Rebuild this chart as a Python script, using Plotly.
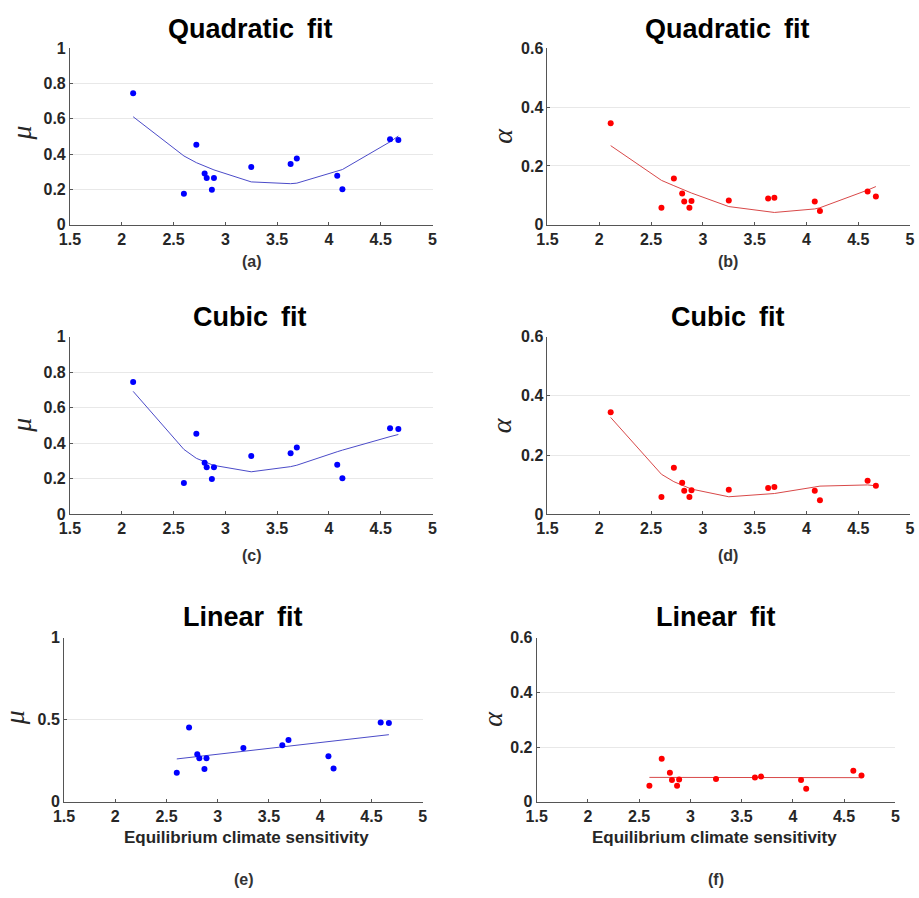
import plotly.graph_objects as go

W, H = 919, 898

# ---- data ----
ecs = [2.11, 2.60, 2.72, 2.80, 2.82, 2.87, 2.89, 3.25, 3.63, 3.69, 4.08, 4.13, 4.59, 4.67]
mu = [0.745, 0.176, 0.453, 0.290, 0.265, 0.199, 0.265, 0.328, 0.344, 0.376, 0.278, 0.202, 0.484, 0.480]
alpha = [0.345, 0.058, 0.157, 0.106, 0.079, 0.058, 0.081, 0.083, 0.089, 0.092, 0.079, 0.047, 0.113, 0.096]

quad_mu = [0.612, 0.390, 0.352, 0.331, 0.326, 0.315, 0.311, 0.243, 0.233, 0.236, 0.302, 0.313, 0.470, 0.503]
cubic_mu = [0.692, 0.365, 0.315, 0.294, 0.289, 0.279, 0.275, 0.239, 0.268, 0.276, 0.352, 0.361, 0.437, 0.449]
quad_alpha = [0.269, 0.151, 0.133, 0.121, 0.118, 0.111, 0.108, 0.062, 0.043, 0.042, 0.054, 0.058, 0.118, 0.130]
cubic_alpha = [0.327, 0.135, 0.110, 0.098, 0.095, 0.088, 0.085, 0.059, 0.068, 0.070, 0.092, 0.095, 0.099, 0.096]

lin_x = [2.60, 4.67]
lin_mu = [0.261, 0.409]
lin_alpha = [0.089, 0.088]

x_ticks = [1.5, 2, 2.5, 3, 3.5, 4, 4.5, 5]
mu_ticks = [0, 0.2, 0.4, 0.6, 0.8, 1]
mu_ticks_lin = [0, 0.5, 1]
alpha_ticks = [0, 0.2, 0.4, 0.6]

BLUE = "#0000ff"
BLUE_LINE = "#4b4bc8"
RED = "#ff0000"
RED_LINE = "#d84848"
TXT = "#262626"

# panel pixel boxes: (left, right, top, bottom)
boxes = [
    (60, 429, 41, 221),
    (546, 915, 41, 221),
    (60, 429, 335, 516),
    (546, 915, 335, 516),
    (54, 419, 642, 809),
    (535, 900, 642, 809),
]

panels = [
    dict(title="Quadratic\u2009 fit", x=ecs, y=mu, fx=ecs, fy=quad_mu, c=BLUE, lc=BLUE_LINE,
         yr=[0, 1], yt=mu_ticks, lab="μ", tag="(a)"),
    dict(title="Quadratic\u2009 fit", x=ecs, y=alpha, fx=ecs, fy=quad_alpha, c=RED, lc=RED_LINE,
         yr=[0, 0.6], yt=alpha_ticks, lab="α", tag="(b)"),
    dict(title="Cubic\u2009 fit", x=ecs, y=mu, fx=ecs, fy=cubic_mu, c=BLUE, lc=BLUE_LINE,
         yr=[0, 1], yt=mu_ticks, lab="μ", tag="(c)"),
    dict(title="Cubic\u2009 fit", x=ecs, y=alpha, fx=ecs, fy=cubic_alpha, c=RED, lc=RED_LINE,
         yr=[0, 0.6], yt=alpha_ticks, lab="α", tag="(d)"),
    dict(title="Linear\u2009 fit", x=ecs[1:], y=mu[1:], fx=lin_x, fy=lin_mu, c=BLUE, lc=BLUE_LINE,
         yr=[0, 1], yt=mu_ticks_lin, lab="μ", tag="(e)"),
    dict(title="Linear\u2009 fit", x=ecs[1:], y=alpha[1:], fx=lin_x, fy=lin_alpha, c=RED, lc=RED_LINE,
         yr=[0, 0.6], yt=alpha_ticks, lab="α", tag="(f)"),
]

# text positions (pixels)
title_pos = [(243, 21), (729, 21), (243, 315), (729, 315), (236, 621), (717, 621)]
tag_pos = [(245, 258), (730, 258), (245, 558), (730, 558), (237, 888), (718, 888)]
ylab_pos = [(11, 127), (500, 130), (11, 425), (500, 425), (3, 723), (490, 724)]

fig = go.Figure()
layout = dict(width=W, height=H, margin=dict(l=0, r=0, t=0, b=0),
              paper_bgcolor="white", plot_bgcolor="white", showlegend=False)
annotations = []

def px(v):
    return v / W

def py(v):
    return 1 - v / H

TICKFONT = dict(family="Liberation Sans", size=16, color=TXT)

for i, (p, b) in enumerate(zip(panels, boxes)):
    k = "" if i == 0 else str(i + 1)
    xa, ya = "x" + k, "y" + k
    fig.add_trace(go.Scatter(x=p["fx"], y=p["fy"], mode="lines", xaxis=xa, yaxis=ya,
                             line=dict(color=p["lc"], width=1)))
    fig.add_trace(go.Scatter(x=p["x"], y=p["y"], mode="markers", xaxis=xa, yaxis=ya,
                             marker=dict(color=p["c"], size=6, line=dict(width=0))))
    l, r, t, bt = b
    layout["xaxis" + k] = dict(
        domain=[px(l), px(r)], anchor=ya, range=[1.5, 5], tickvals=x_ticks,
        ticktext=[f"<b>{v:g}</b>" for v in x_ticks], showgrid=False, zeroline=False,
        showline=True, linecolor="#555555", linewidth=1, ticks="inside", ticklen=3,
        tickcolor="#555555", mirror=False, tickfont=TICKFONT)
    layout["yaxis" + k] = dict(
        domain=[py(bt), py(t)], anchor=xa, range=p["yr"], tickvals=p["yt"],
        ticktext=[f"<b>{v:g}</b>" for v in p["yt"]], showgrid=True, gridcolor="#e8e8e8",
        gridwidth=1, zeroline=False, showline=True, linecolor="#555555", linewidth=1,
        ticks="inside", ticklen=3, tickcolor="#555555", tickfont=TICKFONT)
    tx, ty = title_pos[i]
    annotations.append(dict(text="<b>" + p["title"] + "</b>", x=px(tx), y=py(ty), xref="paper", yref="paper",
                            showarrow=False, xanchor="center", yanchor="middle",
                            font=dict(family="Liberation Sans", size=27, color="black")))
    gx, gy = tag_pos[i]
    annotations.append(dict(text="<b>" + p["tag"] + "</b>", x=px(gx), y=py(gy), xref="paper", yref="paper",
                            showarrow=False, xanchor="center", yanchor="middle",
                            font=dict(family="Liberation Sans", size=16, color="#333333")))
    lx, ly = ylab_pos[i]
    annotations.append(dict(text="<i>" + p["lab"] + "</i>", x=px(lx), y=py(ly), xref="paper", yref="paper",
                            showarrow=False, xanchor="center", yanchor="middle", textangle=-90,
                            font=dict(family="Liberation Serif", size=28, color=TXT)))

for cx in (240, 716):
    annotations.append(dict(text="<b>Equilibrium climate sensitivity</b>", x=px(cx), y=py(845),
                            xref="paper", yref="paper", showarrow=False,
                            xanchor="center", yanchor="middle",
                            font=dict(family="Liberation Sans", size=17, color=TXT)))

layout["annotations"] = annotations
fig.update_layout(**layout)
fig.write_html("out.html")
